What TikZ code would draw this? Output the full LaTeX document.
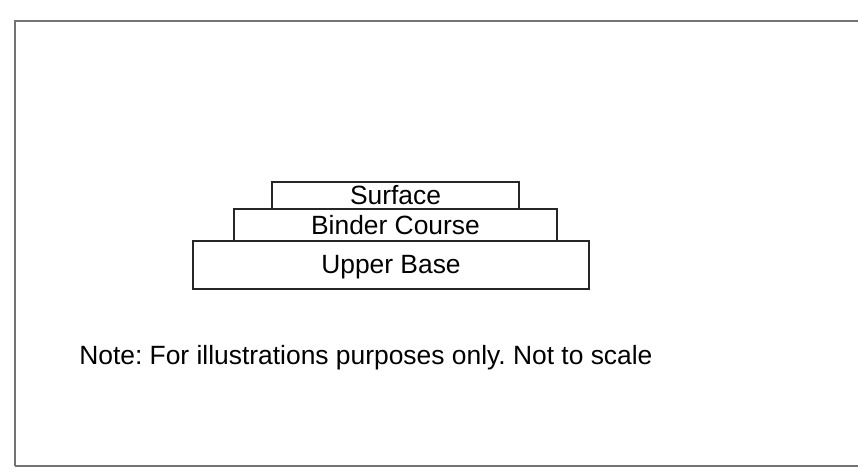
\documentclass[tikz,border=0pt]{standalone}
\usepackage{fontspec}
\setmainfont{Liberation Sans}
\begin{document}
\frenchspacing
\begin{tikzpicture}[x=0.75pt,y=-0.75pt,
    layer/.style={draw=black!85,line width=0.8pt},
    label/.style={font=\fontsize{19.8}{23}\selectfont,inner sep=0pt}]
  \useasboundingbox (0,0) rectangle (858,474);

  % Rahmen
  \draw[black!55,line width=1pt] (15,466) -- (15,21) -- (858,21);
  \draw[black!55,line width=1pt] (15,466) -- (858,466);

  % Schichten
  \draw[layer] (272,182) rectangle (519,209);
  \draw[layer] (234,209) rectangle (557,241);
  \draw[layer] (193,241) rectangle (589,289);

  % Beschriftungen
  \node[label] (surface) at (395.5,195.5) {Surface};
  \node[label] (binder) at (395.5,225.5) {Binder Course};
  \node[label] (base) at (391,267.5) {Upper Base};

  % Hinweis
  \node[label,anchor=base west] (note) at (79,364) {Note: For illustrations purposes only. Not to scale};
\end{tikzpicture}
\end{document}
